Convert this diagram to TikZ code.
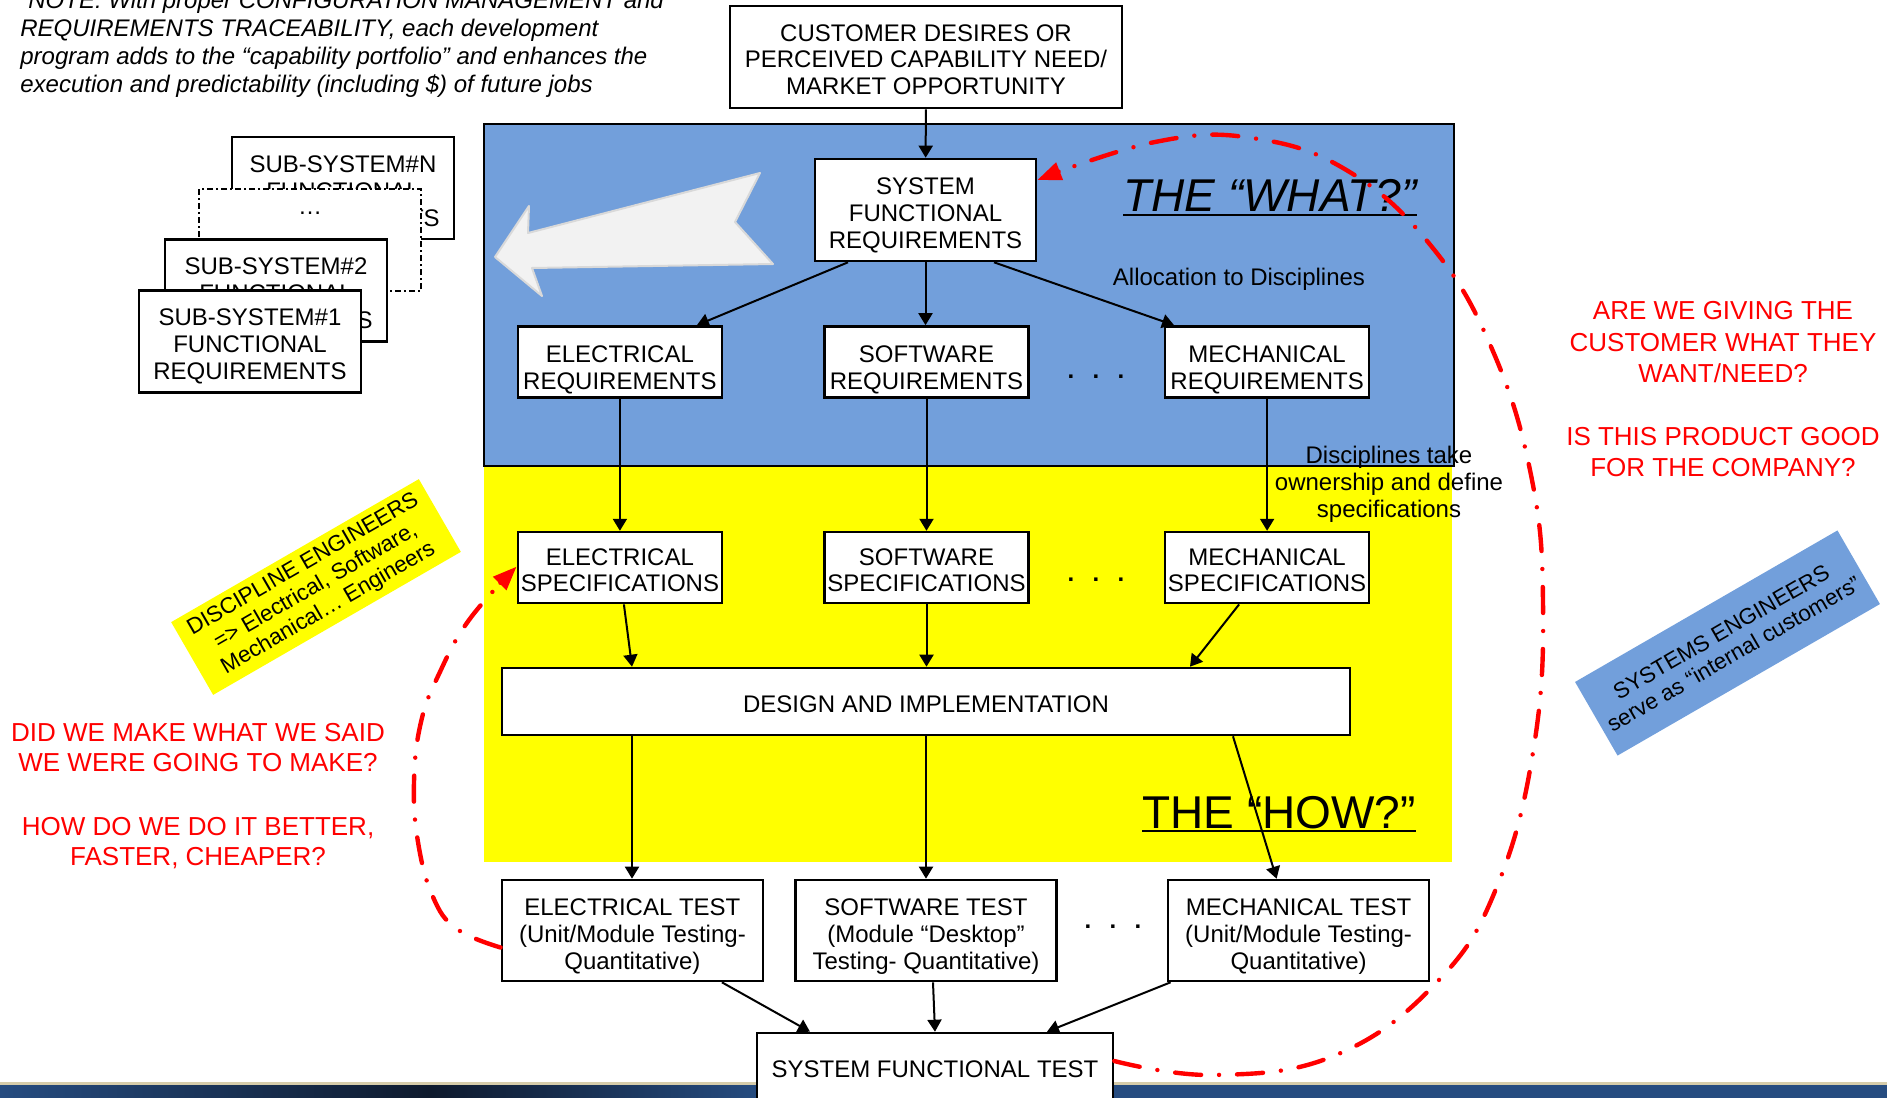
\documentclass[tikz,border=0pt]{standalone}
\usepackage{fontspec}
\setmainfont{Liberation Sans}
\usetikzlibrary{arrows.meta,positioning}
\definecolor{whatblue}{RGB}{114,159,219}
\definecolor{howyellow}{RGB}{255,255,0}
\definecolor{arrowgray}{RGB}{242,242,242}
\definecolor{arrowedge}{RGB}{217,217,217}
\definecolor{bandblue}{RGB}{38,76,128}
\definecolor{banddark}{RGB}{14,26,45}
\definecolor{bandtan}{RGB}{214,204,170}

\begin{document}
\begin{tikzpicture}[x=0.5pt,y=-0.5pt,font=\fontsize{12}{13.4}\selectfont]
\tikzset{box/.style={draw,line width=1.3pt,fill=white,align=center,inner sep=1pt,text height=11pt},
  req/.style={box,minimum width=102pt,minimum height=35.5pt,text height=29.3pt},
  sub/.style={box,minimum width=111pt,minimum height=51pt,text height=40.3pt},
  test/.style={box,minimum width=130.5pt,minimum height=50.5pt,text height=41.5pt},
  arr/.style={-{Triangle[length=6pt,width=7pt]},line width=1pt},
  loopline/.style={red,line width=2.2pt,line cap=round,dash pattern=on 13pt off 9pt on 0pt off 9pt,-{Triangle[length=12pt,width=9pt]}},
  redq/.style={red,align=center,inner sep=0pt},
  tag/.style={rotate=30,align=center,inner sep=0pt,font=\fontsize{11.2}{12.6}\selectfont},
  big/.style={anchor=base west,inner sep=0pt}}
\useasboundingbox (0,0) rectangle (1887,1098);

% backgrounds
\fill[howyellow] (484,466) rectangle (1452,862);
\draw[fill=whatblue,line width=0.6pt] (484,124) rectangle (1454,466);
\fill[bandtan] (0,1082) rectangle (1887,1085);
\shade[left color=bandblue,right color=banddark] (0,1085) rectangle (430,1098);
\shade[left color=banddark,right color=bandblue] (430,1085) rectangle (760,1098);
\fill[bandblue] (760,1085) rectangle (1887,1098);
\draw[fill=arrowgray,draw=arrowedge,line width=1pt,line join=round] (495,257) -- (529,206) -- (528,233) -- (760,173) -- (735,222) -- (773,264) -- (532,268) -- (542,296) -- cycle;

% texts
\node[anchor=base west,inner sep=0pt,align=left,font=\fontsize{12}{14}\selectfont\itshape] (note) at (20,92.7)
  {“NOTE: With proper CONFIGURATION MANAGEMENT and\\REQUIREMENTS TRACEABILITY, each development\\program adds to the “capability portfolio” and enhances the\\execution and predictability (including \$) of future jobs};
\node (alloc) at (1239,279) {Allocation to Disciplines};
\node[align=center] (own) at (1389,484) {Disciplines take\\ownership and define\\specifications};
\node[big,font=\fontsize{23}{26}\selectfont\itshape] (what) at (1123,211) {THE “WHAT?”};
\draw[line width=1pt] ([yshift=-2pt]what.base west) -- ([yshift=-2pt]what.base east);
\node[big,font=\fontsize{23}{26}\selectfont] (how) at (1142,828) {THE “HOW?”};
\draw[line width=1pt] ([yshift=-1.5pt]how.base west) -- ([yshift=-1.5pt]how.base east);
\node[redq,font=\fontsize{13}{15}\selectfont] (didwe) at (198,796) {DID WE MAKE WHAT WE SAID\\WE WERE GOING TO MAKE?\\[17pt]HOW DO WE DO IT BETTER,\\FASTER, CHEAPER?};
\node[redq,font=\fontsize{13}{15.75}\selectfont] (giving) at (1723,389.5) {ARE WE GIVING THE\\CUSTOMER WHAT THEY\\WANT/NEED?\\[15.5pt]IS THIS PRODUCT GOOD\\FOR THE COMPANY?};
\node[tag,fill=howyellow,minimum width=143pt,minimum height=42pt] (disc) at (316,587) {DISCIPLINE ENGINEERS\\=> Electrical, Software,\\Mechanical… Engineers};
\node[tag,fill=whatblue,minimum width=151.5pt,minimum height=42.5pt] (syseng) at (1727.5,643) {SYSTEMS ENGINEERS\\serve as “internal customers”};

% sub-system stack
\node[sub] (subn) at (343,188) {SUB-SYSTEM\#N\\FUNCTIONAL\\REQUIREMENTS};
\node[sub,line width=1pt,dash pattern=on 3pt off 1.5pt on 1pt off 1.5pt,text height=28.2pt] (subdots) at (310,240) {\ldots\\~\\~};
\node[sub] (sub2) at (276,290.5) {SUB-SYSTEM\#2\\FUNCTIONAL\\REQUIREMENTS};
\node[sub] (sub1) at (250,341.5) {SUB-SYSTEM\#1\\FUNCTIONAL\\REQUIREMENTS};

% flow
\node[box,minimum width=196pt,minimum height=51pt,text height=37.9pt] (cust) at (926,57) {CUSTOMER DESIRES OR\\PERCEIVED CAPABILITY NEED/\\MARKET OPPORTUNITY};
\node[box,minimum width=110.5pt,minimum height=51pt,text height=40.3pt] (sfr) at (925.5,210) {SYSTEM\\FUNCTIONAL\\REQUIREMENTS};
\node[req] (swreq) at (926.5,362) {SOFTWARE\\REQUIREMENTS};
\node[req,left=50pt of swreq] (ereq) {ELECTRICAL\\REQUIREMENTS};
\node[req,right=67pt of swreq] (mreq) {MECHANICAL\\REQUIREMENTS};
\node[req,below=66pt of ereq,text height=24.5pt] (espec) {ELECTRICAL\\SPECIFICATIONS};
\node[req,below=66pt of swreq,text height=24.5pt] (swspec) {SOFTWARE\\SPECIFICATIONS};
\node[req,below=66pt of mreq,text height=24.5pt] (mspec) {MECHANICAL\\SPECIFICATIONS};
\node[box,minimum width=424pt,minimum height=33.5pt] (dimp) at (926,701.5) {DESIGN AND IMPLEMENTATION};
\node[test] (swtest) at (926,930.5) {SOFTWARE TEST\\(Module “Desktop”\\Testing- Quantitative)};
\node[test,left=15pt of swtest] (etest) {ELECTRICAL TEST\\(Unit/Module Testing-\\Quantitative)};
\node[test,right=54.5pt of swtest] (mtest) {MECHANICAL TEST\\(Unit/Module Testing-\\Quantitative)};
\node[box,minimum width=178pt,minimum height=35pt,text height=9.8pt] (sft) at (935,1068) {SYSTEM FUNCTIONAL TEST};
\node[inner sep=0pt,font=\fontsize{12}{13.4}\selectfont\bfseries] (dotsa) at (1096,377) {.\hspace{9.2pt}.\hspace{9.2pt}.};
\node[inner sep=0pt,font=\fontsize{12}{13.4}\selectfont\bfseries] (dotsb) at (1096,580) {.\hspace{9.2pt}.\hspace{9.2pt}.};
\node[inner sep=0pt,font=\fontsize{12}{13.4}\selectfont\bfseries] (dotsc) at (1113,927) {.\hspace{9.2pt}.\hspace{9.2pt}.};

\draw[arr] (cust) -- (sfr);
\draw[arr] ([xshift=-38.75pt]sfr.south) -- ([xshift=38.5pt]ereq.north);
\draw[arr] (sfr.south) -- (sfr.south |- swreq.north);
\draw[arr] ([xshift=34.25pt]sfr.south) -- ([xshift=-46.5pt]mreq.north);
\draw[arr] (ereq) -- (espec);
\draw[arr] (swreq) -- (swspec);
\draw[arr] (mreq) -- (mspec);
\draw[arr] ([xshift=2pt]espec.south) -- ([xshift=-147pt]dimp.north);
\draw[arr] (swspec) -- (swspec |- dimp.north);
\draw[arr] ([xshift=-14pt]mspec.south) -- ([xshift=132pt]dimp.north);
\draw[arr] ([xshift=-147pt]dimp.south) -- ([xshift=-147pt]dimp.south |- etest.north);
\draw[arr] (dimp) -- (swtest);
\draw[arr] ([xshift=153.5pt]dimp.south) -- ([xshift=-11pt]mtest.north);
\draw[arr] ([xshift=44.75pt]etest.south) -- ([xshift=-62.5pt]sft.north);
\draw[arr] ([xshift=3.5pt]swtest.south) -- (sft.north);
\draw[arr] ([xshift=-64pt]mtest.south) -- ([xshift=56pt]sft.north);

% feedback loops
\draw[loopline] plot[smooth,tension=0.7] coordinates {([yshift=3.5pt]sft.east) (1215,1075) (1336,1055) (1438,981) (1498,884) (1534,746) (1543,602) (1531,475) (1492,349) (1432,247) (1348,171) (1252,138) (1155,142) ([yshift=15pt]sfr.east)};
\draw[loopline] plot[smooth,tension=0.7] coordinates {([yshift=-8.5pt]etest.west) (457,929) (433,897) (418,842) (414,782) (421,722) (439,674) (469,620) ([yshift=0.5pt]espec.west)};
\end{tikzpicture}
\end{document}
